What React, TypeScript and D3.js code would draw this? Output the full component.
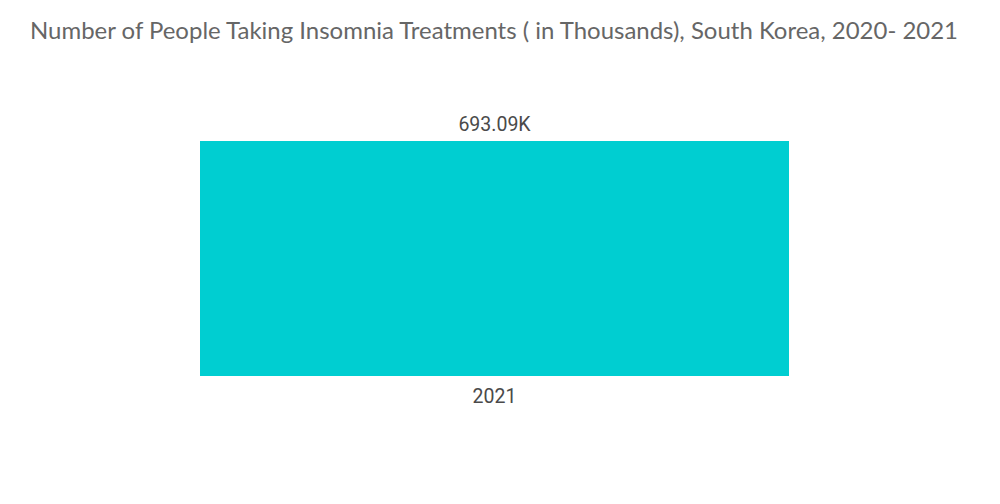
import React from "react";
import * as d3 from "d3";

const categories = ["2021"];
const values = [693.09];
const valueLabels = ["693.09K"];
const title = "Number of People Taking Insomnia Treatments ( in Thousands), South Korea, 2020- 2021";

const W = 1000;
const H = 504;

export default function App() {
  const x = d3.scaleBand<string>().domain(categories).range([200, 789]).padding(0);
  const y = d3.scaleLinear().domain([0, d3.max(values)!]).range([376, 141]);
  return (
    <svg width={W} height={H} style={{ position: "absolute", left: 0, top: 0, background: "#fff" }}>
      <text x={30} y={39} fontFamily="Lato, 'Open Sans', sans-serif" fontSize={23.5} fill="#666" textLength={928} lengthAdjust="spacingAndGlyphs">
        {title}
      </text>
      {categories.map((c, i) => (
        <g key={c}>
          <rect x={x(c)} y={y(values[i])} width={x.bandwidth()} height={y(0) - y(values[i])} fill="#00CED1" />
          <text x={x(c)! + x.bandwidth() / 2} y={y(values[i]) - 10} textAnchor="middle" fontFamily="Roboto, sans-serif" fontSize={19.5} fill="#4a4a4a">
            {valueLabels[i]}
          </text>
          <text x={x(c)! + x.bandwidth() / 2} y={y(0) + 27} textAnchor="middle" fontFamily="Roboto, sans-serif" fontSize={19.5} fill="#4a4a4a">
            {c}
          </text>
        </g>
      ))}
    </svg>
  );
}
